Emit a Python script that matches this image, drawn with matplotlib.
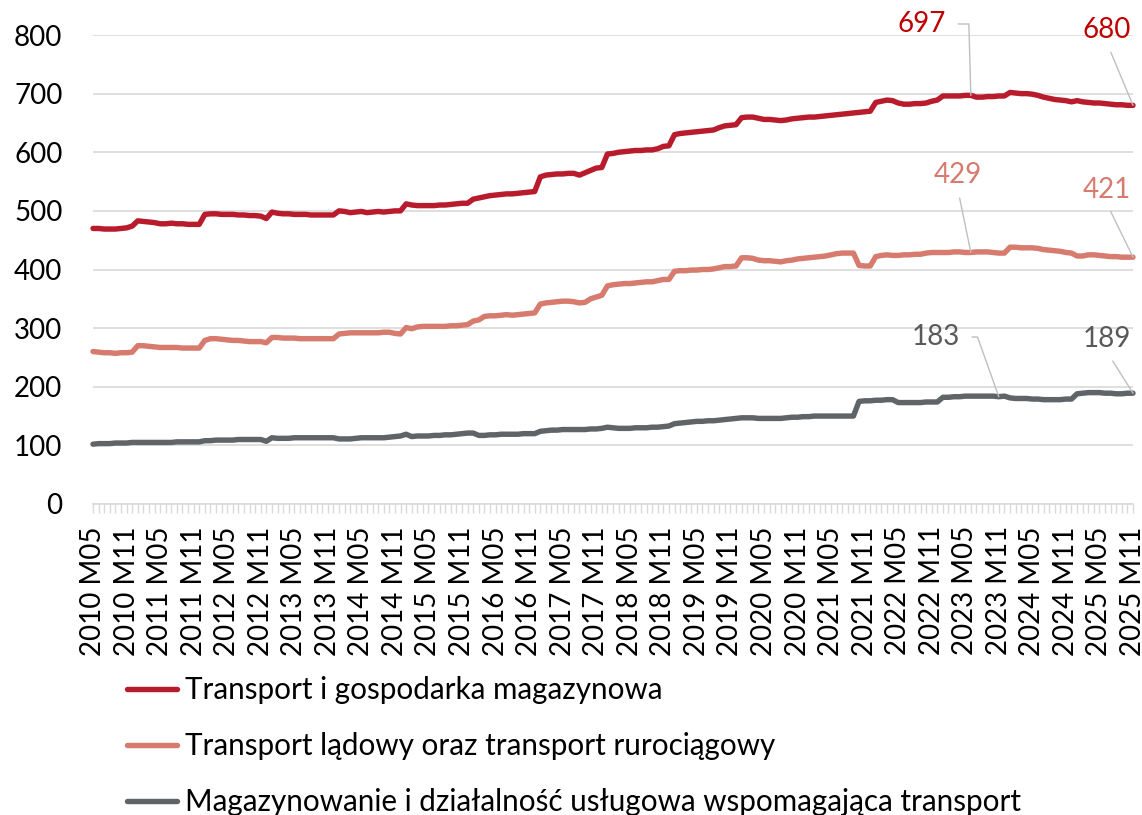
import matplotlib
matplotlib.use("Agg")
import matplotlib.pyplot as plt
from matplotlib.lines import Line2D

# ---------------- data ----------------
tick_labels = [
    "2010 M05", "2010 M11", "2011 M05", "2011 M11", "2012 M05", "2012 M11",
    "2013 M05", "2013 M11", "2014 M05", "2014 M11", "2015 M05", "2015 M11",
    "2016 M05", "2016 M11", "2017 M05", "2017 M11", "2018 M05", "2018 M11",
    "2019 M05", "2019 M11", "2020 M05", "2020 M11", "2021 M05", "2021 M11",
    "2022 M05", "2022 M11", "2023 M05", "2023 M11", "2024 M05", "2024 M11",
    "2025 M05", "2025 M11",
]

series_names = [
    "Transport i gospodarka magazynowa",
    "Transport lądowy oraz transport rurociągowy",
    "Magazynowanie i działalność usługowa wspomagająca transport",
]

# monthly values 2010 M05 .. 2025 M11
transport_total = (
    [470, 470, 469, 469, 469, 470, 471, 474]
    + [483, 482, 481, 480, 478, 478, 479, 478, 478, 477, 477, 477]
    + [494, 495, 495, 494, 494, 494, 493, 493, 492, 492, 491, 487]
    + [498, 496, 495, 495, 494, 494, 494, 493, 493, 493, 493, 493]
    + [500, 499, 497, 498, 499, 497, 498, 499, 498, 499, 500, 500]
    + [512, 510, 509, 509, 509, 509, 510, 510, 511, 512, 513, 513]
    + [520, 522, 524, 526, 527, 528, 529, 529, 530, 531, 532, 533]
    + [558, 561, 562, 563, 563, 564, 564, 561, 565, 569, 573, 574]
    + [597, 598, 600, 601, 602, 603, 603, 604, 604, 606, 610, 611]
    + [630, 632, 633, 634, 635, 636, 637, 638, 642, 645, 646, 647]
    + [659, 660, 660, 658, 656, 656, 655, 654, 655, 657, 658, 659]
    + [660, 660, 661, 662, 663, 664, 665, 666, 667, 668, 669, 670]
    + [685, 687, 689, 688, 684, 682, 682, 683, 683, 684, 687, 689]
    + [696, 696, 696, 696, 697, 697, 694, 694, 695, 695, 696, 696]
    + [702, 701, 700, 700, 699, 697, 694, 692, 690, 689, 688, 686]
    + [688, 686, 685, 684, 684, 683, 682, 681, 681, 680, 680]
)

land_pipeline = (
    [260, 259, 258, 258, 257, 258, 258, 259]
    + [270, 270, 269, 268, 267, 267, 267, 267, 266, 266, 266, 266]
    + [279, 282, 282, 281, 280, 279, 279, 278, 277, 277, 277, 275]
    + [284, 284, 283, 283, 283, 282, 282, 282, 282, 282, 282, 282]
    + [290, 291, 292, 292, 292, 292, 292, 292, 293, 293, 291, 290]
    + [301, 299, 302, 303, 303, 303, 303, 303, 304, 304, 305, 306]
    + [312, 314, 320, 321, 321, 322, 323, 322, 323, 324, 325, 326]
    + [341, 343, 344, 345, 346, 346, 345, 343, 344, 350, 353, 356]
    + [372, 374, 375, 376, 376, 377, 378, 379, 379, 381, 383, 383]
    + [397, 398, 398, 399, 399, 400, 400, 401, 403, 405, 405, 406]
    + [420, 420, 419, 416, 415, 415, 414, 413, 415, 416, 418, 419]
    + [420, 421, 422, 423, 425, 427, 428, 428, 428, 407, 406, 406]
    + [422, 424, 425, 424, 424, 425, 425, 426, 426, 428, 429, 429]
    + [429, 429, 430, 430, 429, 429, 430, 430, 430, 429, 428, 428]
    + [438, 438, 437, 437, 437, 436, 434, 433, 432, 431, 429, 428]
    + [423, 423, 425, 425, 424, 423, 422, 422, 421, 421, 421]
)

warehousing = (
    [102, 103, 103, 103, 104, 104, 104, 105]
    + [105, 105, 105, 105, 105, 105, 105, 106, 106, 106, 106, 106]
    + [108, 108, 109, 109, 109, 109, 110, 110, 110, 110, 110, 107]
    + [113, 112, 112, 112, 113, 113, 113, 113, 113, 113, 113, 113]
    + [111, 111, 111, 112, 113, 113, 113, 113, 113, 114, 115, 116]
    + [119, 115, 116, 116, 116, 117, 117, 118, 118, 119, 120, 121]
    + [121, 117, 117, 118, 118, 119, 119, 119, 119, 120, 120, 120]
    + [124, 125, 126, 126, 127, 127, 127, 127, 127, 128, 128, 129]
    + [131, 130, 129, 129, 129, 130, 130, 130, 131, 131, 132, 133]
    + [137, 138, 139, 140, 141, 141, 142, 142, 143, 144, 145, 146]
    + [147, 147, 147, 146, 146, 146, 146, 146, 147, 148, 148, 149]
    + [149, 150, 150, 150, 150, 150, 150, 150, 150, 175, 176, 176]
    + [177, 177, 178, 178, 173, 173, 173, 173, 173, 174, 174, 174]
    + [182, 182, 183, 183, 184, 184, 184, 184, 184, 184, 183, 184]
    + [181, 180, 180, 180, 179, 179, 178, 178, 178, 178, 179, 179]
    + [188, 189, 190, 190, 190, 189, 189, 188, 188, 189, 189]
)

assert len(transport_total) == len(land_pipeline) == len(warehousing) == 187

# indices of labelled points
lbl_idx_total = 157
lbl_idx_land = 157
lbl_idx_wareh = 162
last_idx = len(transport_total) - 1

# ---------------- style ----------------
plt.rcParams["font.family"] = ["Lato", "DejaVu Sans"]
FS = 20
FS_LEG = 21.3
c_red, c_pink, c_gray = "#B81C2C", "#D67B6E", "#5F6468"
c_red_lbl, c_pink_lbl, c_gray_lbl = "#C00000", "#D67B6E", "#595959"
c_grid = "#D9D9D9"
c_lead = "#BFBFBF"

W, H = 1142, 815
fig = plt.figure(figsize=(W / 100, H / 100), dpi=100)
L, R, T, B = 93, 1133, 35, 504
ax = fig.add_axes([L / W, 1 - B / H, (R - L) / W, (B - T) / H])

x = list(range(len(transport_total)))
lw = 3.9
for vals, col in [(transport_total, c_red), (land_pipeline, c_pink), (warehousing, c_gray)]:
    ax.plot(x, vals, color=col, lw=lw, solid_joinstyle="round",
            solid_capstyle="round", clip_on=False, zorder=3)

ax.set_xlim(0, last_idx)
ax.set_ylim(0, 800)
ax.set_yticks(range(0, 801, 100))
ax.yaxis.grid(True, color=c_grid, lw=1.2)
ax.set_axisbelow(True)
for s in ["top", "right", "left"]:
    ax.spines[s].set_visible(False)
ax.spines["bottom"].set_color(c_grid)
ax.spines["bottom"].set_linewidth(1.2)

ax.set_xticks(range(0, len(x), 6))
ax.set_xticklabels(tick_labels, rotation=90, fontsize=FS)
ax.set_xticks(x, minor=True)
ax.tick_params(axis="x", which="both", length=6.5, width=1, color=c_grid, pad=9.5)
ax.tick_params(axis="y", length=0, labelsize=FS, pad=22)

# ---------------- data labels ----------------
def px2pt(v):
    return v * 72 / 100

labels = [
    (transport_total, lbl_idx_total, c_red_lbl, (-49.3, 63.4), (1, 0.5), 7, "angle,angleA=0,angleB=91.6,rad=0"),
    (transport_total, last_idx, c_red_lbl, (-26, 67.3), (0.5, 0), 5, "arc3"),
    (land_pipeline, lbl_idx_land, c_pink_lbl, (-13.3, 69.5), (0.5, 0), 5.4, "arc3"),
    (land_pipeline, last_idx, c_pink_lbl, (-26.5, 59.2), (0.5, 0), 4.7, "arc3"),
    (warehousing, lbl_idx_wareh, c_gray_lbl, (-62.7, 51.7), (1, 0.5), 6.5, "angle,angleA=0,angleB=109.6,rad=0"),
    (warehousing, last_idx, c_gray_lbl, (-26, 46.2), (0.5, 0), 5.4, "arc3"),
]
for vals, i, col, (dx, dy), rp, shA, cs in labels:
    ax.annotate(f"{vals[i]:.0f}", xy=(i, vals[i]), xytext=(px2pt(dx), px2pt(dy)),
                textcoords="offset points", ha="center", va="baseline",
                fontsize=FS, color=col, annotation_clip=False,
                arrowprops=dict(arrowstyle="-", color=c_lead, lw=1.0,
                                shrinkA=shA, shrinkB=0, relpos=rp,
                                connectionstyle=cs))

# ---------------- legend ----------------
handles = [Line2D([], [], color=c, lw=lw, solid_capstyle="round") for c in (c_red, c_pink, c_gray)]
fig.legend(handles, series_names, loc="upper left",
           bbox_to_anchor=(127 / W, 1 - 676 / H), frameon=False, fontsize=FS_LEG,
           handlelength=1.69, handletextpad=0.27, labelspacing=0.95,
           borderpad=0, borderaxespad=0)

fig.savefig("out.png", dpi=100)
